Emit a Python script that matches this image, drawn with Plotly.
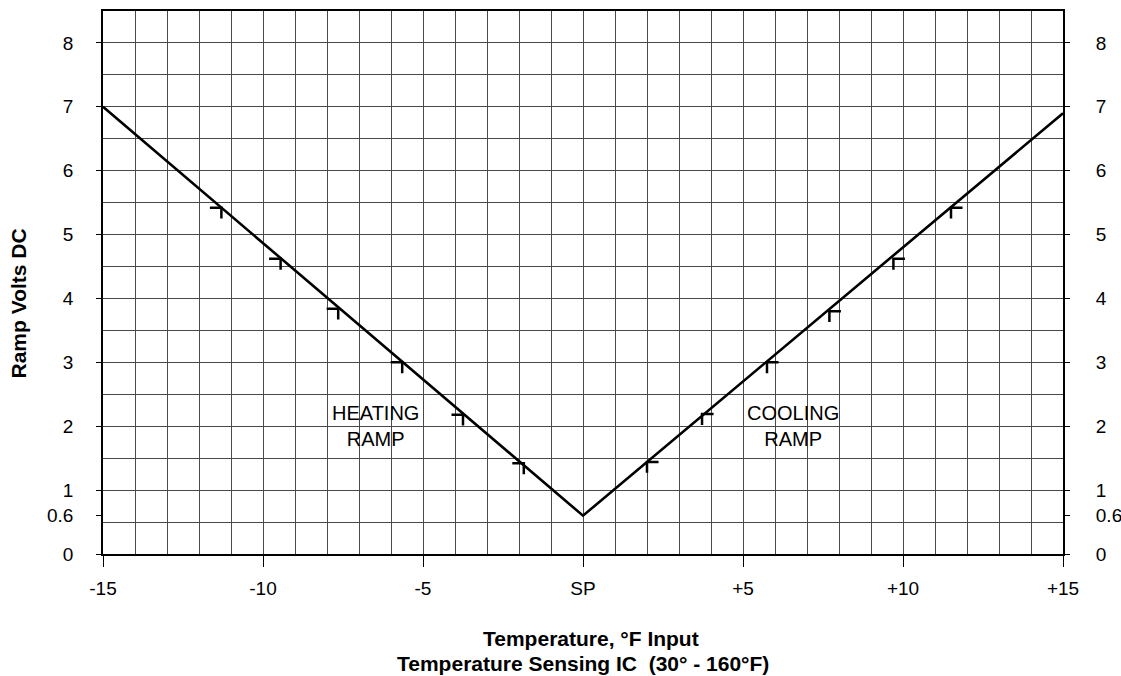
import plotly.graph_objects as go

# ---- data ----
ramp_x = [-15, 0, 15]
ramp_y = [7.0, 0.6, 6.9]

heat_mark_x = [-11.3, -9.45, -7.65, -5.65, -3.75, -1.85]
heat_mark_y = [5.42, 4.62, 3.84, 3.0, 2.18, 1.42]
cool_mark_x = [2.0, 3.72, 5.75, 7.7, 9.7, 11.5]
cool_mark_y = [1.44, 2.19, 3.0, 3.8, 4.62, 5.42]

x_tickvals = [-15, -10, -5, 0, 5, 10, 15]
x_ticktext = ["-15", "-10", "-5", "SP", "+5", "+10", "+15"]
y_tickvals = [0, 0.6, 1, 2, 3, 4, 5, 6, 7, 8]
y_ticktext = ["0", "0.6", "1", "2", "3", "4", "5", "6", "7", "8"]

# mark arm sizes (data units)
DX = 0.36
DY = 0.17

FONT = "Liberation Sans, Arial, sans-serif"
GRID = "#4a4a4a"

def mark_path(xs, ys, side):
    px, py = [], []
    for x, y in zip(xs, ys):
        px += [x + side * DX, x, x, None]
        py += [y, y, y - DY, None]
    return px, py

fig = go.Figure()

fig.add_trace(go.Scatter(x=ramp_x, y=ramp_y, mode="lines",
                         line=dict(color="black", width=2.6),
                         hoverinfo="skip", showlegend=False))

hx, hy = mark_path(heat_mark_x, heat_mark_y, -1)
fig.add_trace(go.Scatter(x=hx, y=hy, mode="lines",
                         line=dict(color="black", width=2.5),
                         hoverinfo="skip", showlegend=False))
cx, cy = mark_path(cool_mark_x, cool_mark_y, 1)
fig.add_trace(go.Scatter(x=cx, y=cy, mode="lines",
                         line=dict(color="black", width=2.5),
                         hoverinfo="skip", showlegend=False))

# invisible trace for the right axis
fig.add_trace(go.Scatter(x=[0], y=[0], yaxis="y2", mode="markers",
                         marker=dict(opacity=0), hoverinfo="skip",
                         showlegend=False))

tickfont = dict(family=FONT, size=19, color="black")

fig.update_layout(
    width=1121, height=676,
    margin=dict(l=103, r=58, t=11, b=122, autoexpand=False),
    paper_bgcolor="white", plot_bgcolor="white",
    font=dict(family=FONT, color="black"),
    xaxis=dict(
        range=[-15, 15], tickmode="array", tickvals=x_tickvals, ticktext=x_ticktext,
        ticks="outside", ticklen=11, tickwidth=1.2, tickcolor="black",
        tickfont=tickfont, ticklabelstandoff=5, automargin=False,
        showgrid=True, gridcolor=GRID, gridwidth=1.2,
        minor=dict(dtick=1, tick0=0, showgrid=True, gridcolor=GRID, gridwidth=1.2, ticks=""),
        showline=True, linecolor="black", linewidth=1.8, mirror=True,
        zeroline=False, fixedrange=True,
    ),
    yaxis=dict(
        range=[0, 8.5], tickmode="array", tickvals=y_tickvals, ticktext=y_ticktext,
        ticks="outside", ticklen=5, tickwidth=1.2, tickcolor="black",
        tickfont=tickfont, ticklabelstandoff=19, automargin=False,
        showgrid=False,
        minor=dict(dtick=0.5, tick0=0, showgrid=True, gridcolor=GRID, gridwidth=1.2, ticks=""),
        showline=True, linecolor="black", linewidth=1.6, mirror=True,
        zeroline=False, fixedrange=True,
    ),
    yaxis2=dict(
        range=[0, 8.5], overlaying="y", side="right",
        tickmode="array", tickvals=y_tickvals, ticktext=y_ticktext,
        ticks="outside", ticklen=6, tickwidth=1.2, tickcolor="black",
        tickfont=tickfont, ticklabelstandoff=22, automargin=False,
        showgrid=False, showline=False, zeroline=False, fixedrange=True,
    ),
    annotations=[
        dict(text="<b>Temperature, °F Input</b>", xref="paper", yref="paper",
             x=0.508, y=-0.156, xanchor="center", yanchor="middle", showarrow=False,
             font=dict(family=FONT, size=21, color="black")),
        dict(text="<b>Temperature Sensing IC  (30° - 160°F)</b>", xref="paper", yref="paper",
             x=0.5, y=-0.202, xanchor="center", yanchor="middle", showarrow=False,
             font=dict(family=FONT, size=21, color="black")),
        dict(text="<b>Ramp Volts DC</b>", xref="paper", yref="paper",
             x=-0.0877, y=0.461, xanchor="center", yanchor="middle", showarrow=False,
             textangle=-90, font=dict(family=FONT, size=21, color="black")),
        dict(text="HEATING<br>RAMP", xref="x", yref="y", x=-6.5, y=2.0,
             xanchor="center", yanchor="middle", showarrow=False,
             font=dict(family=FONT, size=20, color="black")),
        dict(text="COOLING<br>RAMP", xref="x", yref="y", x=6.55, y=2.0,
             xanchor="center", yanchor="middle", showarrow=False,
             font=dict(family=FONT, size=20, color="black")),
    ],
)

fig.write_html("out.html", config={"displayModeBar": False},
               post_script="document.body.style.margin='0px';document.body.style.overflow='hidden';")
